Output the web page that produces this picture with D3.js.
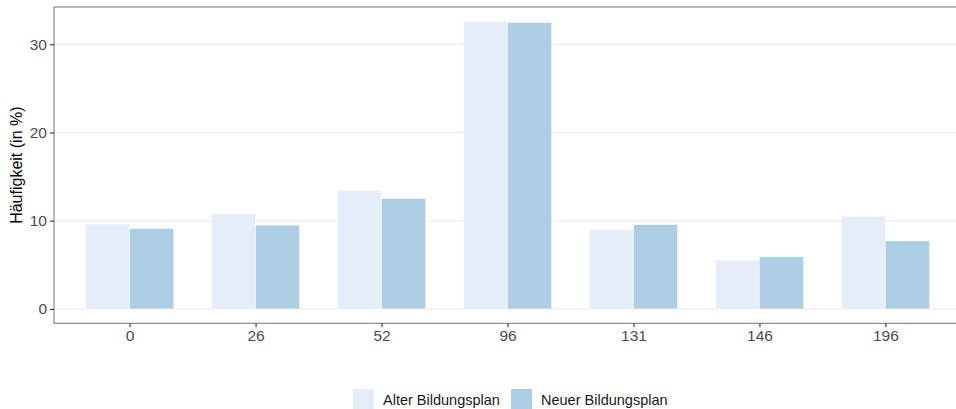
<!DOCTYPE html>
<html>
<head>
<meta charset="utf-8">
<script src="https://cdn.jsdelivr.net/npm/d3@7"></script>
<style>
  body { margin: 0; background: #fff; }
  svg text { font-family: "Liberation Sans", Arial, sans-serif; }
</style>
</head>
<body>
<svg id="chart" width="956" height="409"></svg>
<script>
// Data
var categories = ["0", "26", "52", "96", "131", "146", "196"];
var seriesNames = ["Alter Bildungsplan", "Neuer Bildungsplan"];
var alterValues = [9.6, 10.8, 13.45, 32.6, 9.0, 5.5, 10.5];
var neuerValues = [9.1, 9.5, 12.5, 32.45, 9.55, 5.9, 7.7];
var yTicks = [0, 10, 20, 30];

var colors = ["#e5eef8", "#adcde2"];

// Panel geometry
var panel = { left: 54, top: 7, right: 961, bottom: 323.3 };

var svg = d3.select("#chart");

// Scales: discrete x with ggplot-like 0.6 expansion, continuous y with 5% expansion
var xScale = d3.scalePoint()
    .domain(categories)
    .range([panel.left, panel.right])
    .padding(0.6);
var step = xScale.step();

var yMax = d3.max(alterValues.concat(neuerValues));
var pad = yMax * 0.05;
var yScale = d3.scaleLinear()
    .domain([-pad, yMax + pad])
    .range([panel.bottom, panel.top]);

var series = seriesNames.map(function (name, i) {
    var vals = i === 0 ? alterValues : neuerValues;
    return {
        name: name,
        color: colors[i],
        values: categories.map(function (c, j) { return { cat: c, value: vals[j] }; })
    };
});

// Gridlines
svg.append("g")
    .selectAll("line")
    .data(yTicks)
    .enter()
    .append("line")
    .attr("x1", panel.left)
    .attr("x2", panel.right)
    .attr("y1", function (d) { return yScale(d); })
    .attr("y2", function (d) { return yScale(d); })
    .attr("stroke", "#ebebeb")
    .attr("stroke-width", 1.1);

// Bars (dodged, total width 0.7 of a step)
var barW = step * 0.7 / 2;
svg.selectAll(".series")
    .data(series)
    .enter()
    .append("g")
    .attr("class", "series")
    .each(function (s, i) {
        d3.select(this).selectAll("rect")
            .data(s.values)
            .enter()
            .append("rect")
            .attr("x", function (d) { return xScale(d.cat) - barW + i * barW; })
            .attr("width", barW)
            .attr("y", function (d) { return yScale(d.value); })
            .attr("height", function (d) { return yScale(0) - yScale(d.value); })
            .attr("fill", s.color)
            .attr("stroke", "#ffffff")
            .attr("stroke-width", 0.4);
    });

// Panel border
svg.append("rect")
    .attr("x", panel.left)
    .attr("y", panel.top)
    .attr("width", panel.right - panel.left)
    .attr("height", panel.bottom - panel.top)
    .attr("fill", "none")
    .attr("stroke", "#7f7f7f")
    .attr("stroke-width", 1.1);

// Axes
var xAxis = d3.axisBottom(xScale).tickSize(4).tickPadding(3);
var yAxis = d3.axisLeft(yScale).tickValues(yTicks).tickSize(4).tickPadding(3);

var gx = svg.append("g")
    .attr("transform", "translate(0," + panel.bottom + ")")
    .call(xAxis);
var gy = svg.append("g")
    .attr("transform", "translate(" + panel.left + ",0)")
    .call(yAxis);

[gx, gy].forEach(function (g) {
    g.select(".domain").remove();
    g.selectAll(".tick line").attr("stroke", "#333333").attr("stroke-width", 1.1);
    g.selectAll(".tick text")
        .attr("fill", "#4d4d4d")
        .style("font-size", "15.5px");
});

// Y axis title
svg.append("text")
    .attr("transform", "translate(22," + ((panel.top + panel.bottom) / 2) + ") rotate(-90)")
    .style("text-anchor", "middle")
    .style("font-size", "16px")
    .attr("fill", "#000")
    .text("Häufigkeit (in %)");

// Legend
var legendItems = [
    { name: seriesNames[0], color: colors[0], x: 353 },
    { name: seriesNames[1], color: colors[1], x: 511 }
];
var legend = svg.append("g").attr("class", "legend");
legendItems.forEach(function (d) {
    legend.append("rect")
        .attr("x", d.x)
        .attr("y", 389)
        .attr("width", 21)
        .attr("height", 20)
        .attr("fill", d.color);
    legend.append("text")
        .attr("x", d.x + 30)
        .attr("y", 404.5)
        .style("font-size", "14.5px")
        .attr("fill", "#1a1a1a")
        .text(d.name);
});
</script>
</body>
</html>
